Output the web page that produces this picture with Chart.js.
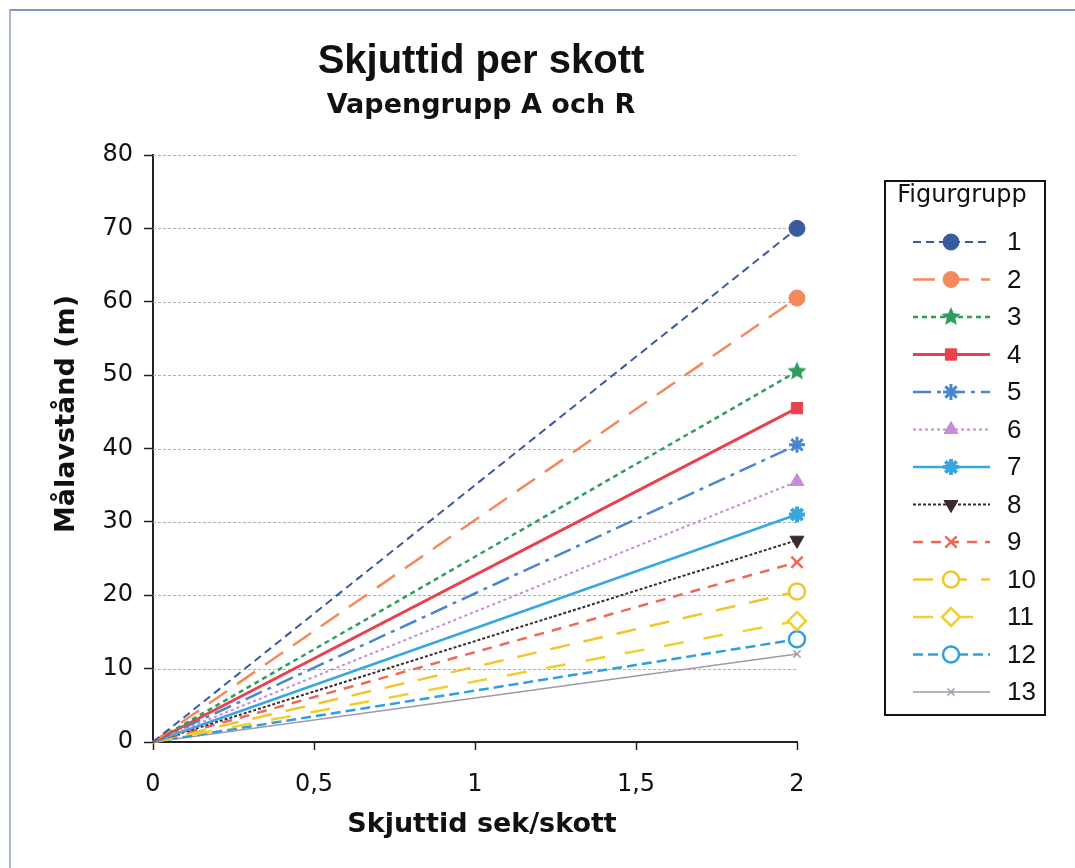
<!DOCTYPE html>
<html>
<head>
<meta charset="utf-8">
<script src="https://cdn.jsdelivr.net/npm/chart.js@4.4.1/dist/chart.umd.min.js"></script>
<style>
  html, body { margin: 0; padding: 0; background: #fff; }
  #wrap { position: relative; width: 1075px; height: 868px; }
  #frame { position: absolute; left: 9px; top: 9px; right: 0; bottom: 0;
           border-top: 2px solid #8297bb; border-left: 2px solid #a9b8d2; }
  canvas { position: absolute; left: 0; top: 0; }
</style>
</head>
<body>
<div id="wrap">
  <div id="frame"></div>
  <canvas id="c" width="1075" height="868"></canvas>
</div>
<script>
'use strict';

// skjuttid (sek/skott) och målavstånd (m) per figurgrupp
var tider = [0, 2];
var fg1  = [0, 70];
var fg2  = [0, 60.5];
var fg3  = [0, 50.5];
var fg4  = [0, 45.5];
var fg5  = [0, 40.5];
var fg6  = [0, 35.5];
var fg7  = [0, 31];
var fg8  = [0, 27.5];
var fg9  = [0, 24.5];
var fg10 = [0, 20.5];
var fg11 = [0, 16.5];
var fg12 = [0, 14];
var fg13 = [0, 12];
var gruppNamn = ['1', '2', '3', '4', '5', '6', '7', '8', '9', '10', '11', '12', '13'];
var yTicks = [0, 10, 20, 30, 40, 50, 60, 70, 80];
var xTicks = [0, 0.5, 1, 1.5, 2];

var WIDE = '"DejaVu Sans", Verdana, sans-serif';
var SANS = '"Liberation Sans", Arial, sans-serif';

// filled five point star for group 3
function starImage(color, r) {
  var cv = document.createElement('canvas');
  cv.width = r * 2 + 2; cv.height = r * 2 + 2;
  var g = cv.getContext('2d');
  g.translate(r + 1, r + 1);
  g.beginPath();
  for (var i = 0; i < 10; i++) {
    var rad = i % 2 ? r * 0.45 : r;
    var a = -Math.PI / 2 + i * Math.PI / 5;
    g.lineTo(Math.cos(a) * rad, Math.sin(a) * rad);
  }
  g.closePath();
  g.fillStyle = color;
  g.fill();
  return cv;
}

var styles = [
  { c: '#3a5a9e', dash: [8, 5],          w: 2,   p: 'circle',   r: 8 },
  { c: '#f4895c', dash: [22, 12],        w: 2.5, p: 'circle',   r: 8 },
  { c: '#2f9e5c', dash: [5, 4],          w: 2.5, p: starImage('#2f9e5c', 10), r: 9 },
  { c: '#e8424f', dash: [],              w: 3,   p: 'rect',     r: 8 },
  { c: '#4a86cf', dash: [18, 6, 4, 6],   w: 2.5, p: 'star',     r: 8, bw: 3 },
  { c: '#c98ad6', dash: [3, 3],          w: 2,   p: 'triangle', r: 8 },
  { c: '#38a6e0', dash: [],              w: 2.5, p: 'star',     r: 8, bw: 4 },
  { c: '#3a2a2c', dash: [3, 2],          w: 2,   p: 'triangle', r: 8, rot: 180 },
  { c: '#ee6a58', dash: [10, 8],         w: 2.5, p: 'crossRot', r: 8, bw: 2.5 },
  { c: '#f2c42e', dash: [20, 14],        w: 2.5, p: 'circle',   r: 8, open: true },
  { c: '#f0d02a', dash: [20, 20],        w: 2.5, p: 'rectRot',  r: 9, open: true },
  { c: '#2ea0e0', dash: [10, 5],         w: 2.5, p: 'circle',   r: 8, open: true },
  { c: '#a596a8', dash: [],              w: 1.5, p: 'crossRot', r: 5, bw: 1.5 }
];

var serier = [fg1, fg2, fg3, fg4, fg5, fg6, fg7, fg8, fg9, fg10, fg11, fg12, fg13];

var datasets = serier.map(function (vals, i) {
  var s = styles[i];
  return {
    label: gruppNamn[i],
    data: vals.map(function (v, j) { return { x: tider[j], y: v }; }),
    borderColor: s.c,
    borderWidth: s.w,
    borderDash: s.dash,
    pointStyle: s.p,
    pointRadius: [0, s.r],
    pointHoverRadius: [0, s.r],
    pointRotation: s.rot || 0,
    pointBorderColor: s.c,
    pointBackgroundColor: s.open ? '#fff' : s.c,
    pointBorderWidth: s.bw || (s.open ? 2.5 : 1),
    clip: false,
    fill: false,
    tension: 0
  };
});

// dotted horizontal gridlines, placed by the y scale
var dottedGrid = {
  id: 'dottedGrid',
  beforeDatasetsDraw: function (chart) {
    var ctx = chart.ctx, area = chart.chartArea, y = chart.scales.y;
    ctx.save();
    ctx.strokeStyle = '#b0b0b0';
    ctx.lineWidth = 1;
    ctx.setLineDash([3, 2]);
    yTicks.forEach(function (v) {
      if (v === 0) return;
      var py = Math.round(y.getPixelForValue(v)) + 0.5;
      ctx.beginPath();
      ctx.moveTo(area.left, py);
      ctx.lineTo(area.right, py);
      ctx.stroke();
    });
    ctx.restore();
  }
};

// titles, axis titles and boxed legend drawn on the canvas
var decorations = {
  id: 'decorations',
  afterDraw: function (chart) {
    var ctx = chart.ctx;
    ctx.save();
    ctx.fillStyle = '#111';
    ctx.textAlign = 'center';
    ctx.textBaseline = 'middle';
    ctx.font = 'bold 40px ' + SANS;
    ctx.fillText('Skjuttid per skott', 481, 62);
    ctx.font = 'bold 27px ' + WIDE;
    ctx.fillText('Vapengrupp A och R', 481, 106);

    // axis titles
    ctx.font = 'bold 27px ' + WIDE;
    ctx.fillText('Skjuttid sek/skott', 482, 825);
    ctx.save();
    ctx.translate(67, 414);
    ctx.rotate(-Math.PI / 2);
    ctx.fillText('Målavstånd (m)', 0, 0);
    ctx.restore();

    // legend box
    ctx.strokeStyle = '#111';
    ctx.lineWidth = 2;
    ctx.strokeRect(885, 181, 160, 534);
    ctx.font = '24px ' + WIDE;
    ctx.fillText('Figurgrupp', 962, 196);

    ctx.textAlign = 'left';
    ctx.font = '26px ' + SANS;
    chart.data.datasets.forEach(function (ds, i) {
      var y = 242 + i * 37.5;
      ctx.strokeStyle = ds.borderColor;
      ctx.lineWidth = ds.borderWidth;
      ctx.setLineDash(ds.borderDash);
      ctx.beginPath();
      ctx.moveTo(913, y);
      ctx.lineTo(990, y);
      ctx.stroke();
      ctx.setLineDash([]);
      ctx.fillStyle = ds.pointBackgroundColor;
      ctx.strokeStyle = ds.pointBorderColor;
      ctx.lineWidth = ds.pointBorderWidth;
      Chart.helpers.drawPoint(ctx, {
        pointStyle: ds.pointStyle,
        radius: ds.pointRadius[1],
        rotation: ds.pointRotation,
        borderWidth: ds.pointBorderWidth
      }, 951, y);
      ctx.fillStyle = '#111';
      ctx.fillText(ds.label, 1007, y + 1);
    });
    ctx.restore();
  }
};

var chart = new Chart(document.getElementById('c'), {
  type: 'line',
  data: { datasets: datasets },
  options: {
    responsive: false,
    animation: false,
    layout: { padding: { left: 0, right: 278, top: 155, bottom: 0 } },
    plugins: {
      legend: { display: false },
      title: { display: false },
      tooltip: { enabled: false }
    },
    scales: {
      x: {
        type: 'linear',
        min: 0,
        max: 2,
        afterBuildTicks: function (axis) { axis.ticks = xTicks.map(function (v) { return { value: v }; }); },
        afterFit: function (axis) { axis.height = 126; },
        grid: { drawOnChartArea: false, tickLength: 8, tickColor: '#222', tickWidth: 1.5 },
        border: { color: '#222', width: 2 },
        ticks: {
          color: '#111',
          padding: 20,
          font: { family: WIDE, size: 24 },
          callback: function (v) { return String(v).replace('.', ','); }
        }
      },
      y: {
        min: 0,
        max: 80,
        afterBuildTicks: function (axis) { axis.ticks = yTicks.map(function (v) { return { value: v }; }); },
        afterFit: function (axis) { axis.width = 153; },
        grid: { drawOnChartArea: false, tickColor: '#222', tickLength: 9, tickWidth: 1.5 },
        border: { color: '#222', width: 2 },
        ticks: {
          color: '#111',
          padding: 11,
          font: { family: WIDE, size: 24 }
        }
      }
    }
  },
  plugins: [dottedGrid, decorations]
});
</script>
</body>
</html>
